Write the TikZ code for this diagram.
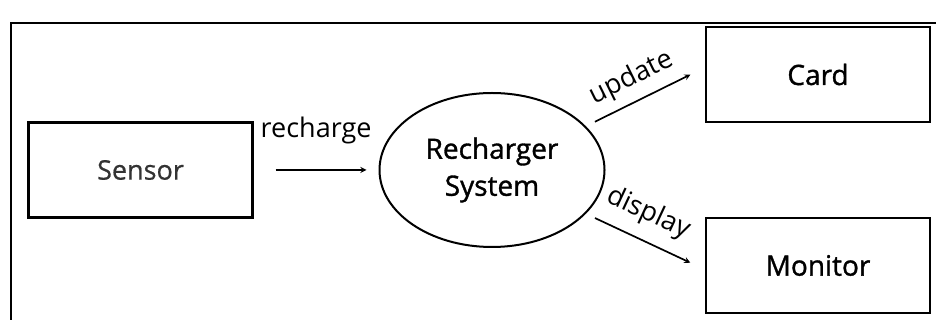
\documentclass[tikz,border=0pt]{standalone}
\usepackage{fontspec}
\setmainfont{Open Sans}
\usepackage{tikz}
\usetikzlibrary{shapes,arrows,positioning,calc}

\begin{document}
\begin{tikzpicture}[
    x=1pt, y=1pt,
    box/.style={rectangle, draw, line width=2.4pt, minimum width=224pt, minimum height=95pt, font=\fontsize{28}{34}\selectfont\addfontfeatures{FakeBold=1.2}},
    process/.style={ellipse, draw, line width=2pt, minimum width=225pt, minimum height=154pt, inner sep=0pt, align=center, font=\fontsize{28}{37}\selectfont\addfontfeatures{FakeBold=1.2}},
    arrow/.style={->, >=stealth, line width=1.7pt},
    flowlabel/.style={font=\fontsize{27}{32}\selectfont}
]
\useasboundingbox (0,0) rectangle (936,320);

% Frame
\draw[line width=1.8pt] (11,-5) |- (945,297);

% Entities and process
\node[box, text=black!80, font=\fontsize{27}{32}\selectfont\addfontfeatures{FakeBold=0.6}] (sensor) at (140.5,150) {Sensor};
\node[process] (system) at (492,150) {Recharger\\System};
\node[box] (card) at (818,245.5) {Card};
\node[box] (monitor) at (818,54.5) {Monitor};

% Data flows
\draw[arrow, shorten <=22pt, shorten >=12pt] (sensor) -- node[above=22pt, flowlabel] {recharge} (system);
\draw[arrow, shorten <=10pt, shorten >=16pt] (system.25) -- node[pos=0.47, above=5pt, sloped, flowlabel] {update} ([yshift=7pt]card.west);
\draw[arrow, shorten <=10pt, shorten >=16pt] (system.-25) -- node[pos=0.43, above=9pt, sloped, flowlabel] {display} ([yshift=-4pt]monitor.west);

\end{tikzpicture}
\end{document}
